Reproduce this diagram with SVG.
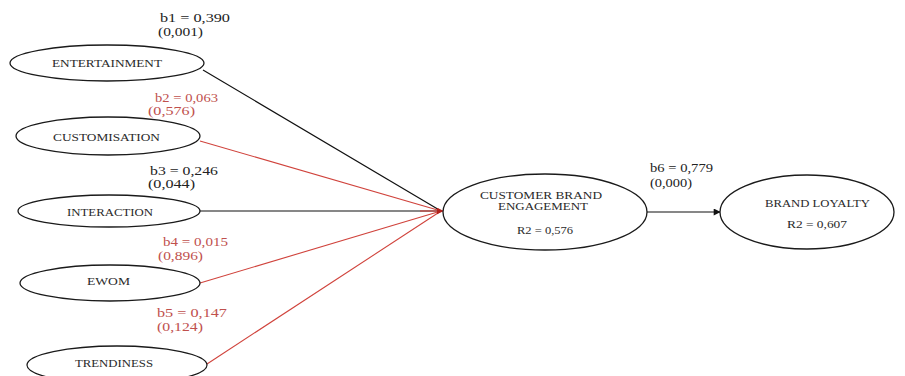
<svg xmlns="http://www.w3.org/2000/svg" width="905" height="376" viewBox="0 0 905 376">
<defs>
<style>
.node ellipse{fill:#fff;stroke:#1a1a1a;stroke-width:1.3}
.nl{font-family:"Liberation Serif","Times New Roman",serif;font-size:10px;fill:#2a2a2a;text-anchor:middle}
.lb{font-family:"Liberation Serif","Times New Roman",serif;font-size:12.5px;fill:#222}
.red{fill:#c0504d}
.blk{stroke:#111;stroke-width:1.2;fill:none}
.rd{stroke:#d0433c;stroke-width:1.1;fill:none}
</style>
<marker id="ah" viewBox="0 0 10 10" refX="9" refY="5" markerWidth="8" markerHeight="7" orient="auto" markerUnits="userSpaceOnUse"><path d="M0,0 L10,5 L0,10 z" fill="#111"/></marker>
<marker id="ahr" viewBox="0 0 10 10" refX="9" refY="5" markerWidth="7" markerHeight="7" orient="auto" markerUnits="userSpaceOnUse"><path d="M0,0 L10,5 L0,10 z" fill="#b0201a"/></marker>
</defs>
<rect width="905" height="376" fill="#fff"/>
<g id="connectors">
<line class="blk" x1="203" y1="70" x2="441" y2="211"/>
<line class="rd" x1="200" y1="141" x2="441" y2="211"/>
<line class="blk" x1="200" y1="211" x2="441" y2="211"/>
<line class="rd" x1="200" y1="283" x2="441" y2="211"/>
<line class="rd" x1="207" y1="364" x2="441" y2="211"/>
<line class="rd" x1="420" y1="211" x2="443" y2="211" stroke-width="0" marker-end="url(#ahr)"/>
<line class="blk" x1="647" y1="212" x2="720" y2="212" marker-end="url(#ah)"/>
</g>
<g id="labels">
<text class="lb" x="160" y="22" textLength="70" lengthAdjust="spacingAndGlyphs">b1 = 0,390</text>
<text class="lb" x="158" y="36" textLength="45" lengthAdjust="spacingAndGlyphs">(0,001)</text>
<text class="lb red" x="155" y="102" textLength="63" lengthAdjust="spacingAndGlyphs">b2 = 0,063</text>
<text class="lb red" x="148" y="115" textLength="47" lengthAdjust="spacingAndGlyphs">(0,576)</text>
<text class="lb" x="150" y="175" textLength="68" lengthAdjust="spacingAndGlyphs">b3 = 0,246</text>
<text class="lb" x="148" y="188" textLength="47" lengthAdjust="spacingAndGlyphs">(0,044)</text>
<text class="lb red" x="163" y="246" textLength="65" lengthAdjust="spacingAndGlyphs">b4 = 0,015</text>
<text class="lb red" x="158" y="260" textLength="45" lengthAdjust="spacingAndGlyphs">(0,896)</text>
<text class="lb red" x="157" y="317" textLength="70" lengthAdjust="spacingAndGlyphs">b5 = 0,147</text>
<text class="lb red" x="157" y="331" textLength="46" lengthAdjust="spacingAndGlyphs">(0,124)</text>
<text class="lb" x="650" y="172" textLength="63" lengthAdjust="spacingAndGlyphs">b6 = 0,779</text>
<text class="lb" x="650" y="187" textLength="42" lengthAdjust="spacingAndGlyphs">(0,000)</text>
</g>
<g id="entertainment" class="node"><ellipse cx="107" cy="63" rx="97" ry="18"/><text class="nl" x="107" y="67" textLength="110" lengthAdjust="spacingAndGlyphs">ENTERTAINMENT</text></g>
<g id="customisation" class="node"><ellipse cx="108" cy="136" rx="92" ry="19"/><text class="nl" x="106.5" y="141" textLength="107" lengthAdjust="spacingAndGlyphs">CUSTOMISATION</text></g>
<g id="interaction" class="node"><ellipse cx="109" cy="211" rx="91" ry="16"/><text class="nl" x="110" y="216" textLength="86" lengthAdjust="spacingAndGlyphs">INTERACTION</text></g>
<g id="ewom" class="node"><ellipse cx="110" cy="283" rx="90" ry="18"/><text class="nl" x="108.5" y="285" textLength="43" lengthAdjust="spacingAndGlyphs">EWOM</text></g>
<g id="trendiness" class="node"><ellipse cx="117" cy="365" rx="90" ry="19"/><text class="nl" x="114" y="367" textLength="78" lengthAdjust="spacingAndGlyphs">TRENDINESS</text></g>
<g id="cbe" class="node"><ellipse cx="545" cy="212" rx="102" ry="38"/><text class="nl" x="541" y="199" textLength="122" lengthAdjust="spacingAndGlyphs">CUSTOMER BRAND</text><text class="nl" x="543" y="210" textLength="90" lengthAdjust="spacingAndGlyphs">ENGAGEMENT</text><text class="nl" x="545" y="234" textLength="56" lengthAdjust="spacingAndGlyphs">R2 = 0,576</text></g>
<g id="bl" class="node"><ellipse cx="807" cy="212" rx="87" ry="37"/><text class="nl" x="817.5" y="207" textLength="105" lengthAdjust="spacingAndGlyphs">BRAND LOYALTY</text><text class="nl" x="817" y="228" textLength="60" lengthAdjust="spacingAndGlyphs">R2 = 0,607</text></g>
</svg>
